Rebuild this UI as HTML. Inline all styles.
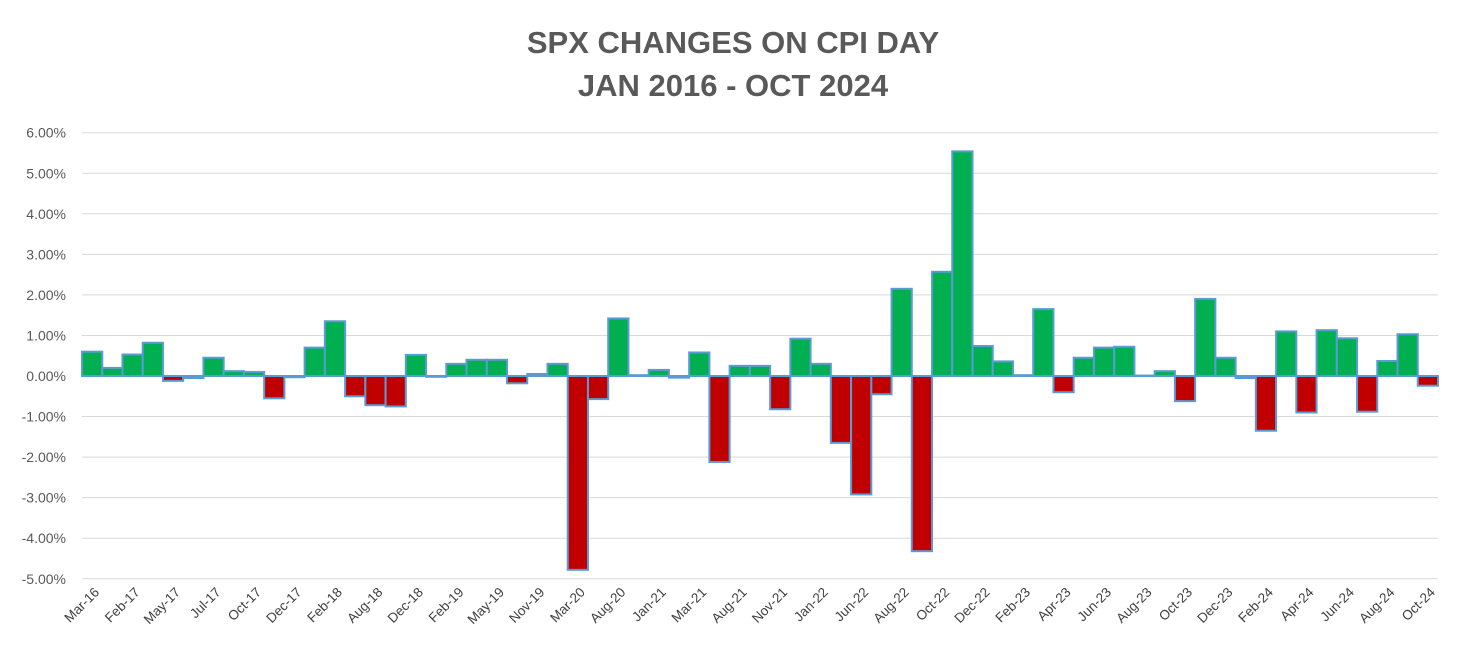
<!DOCTYPE html>
<html><head><meta charset="utf-8"><style>
body{margin:0;background:#fff;}
svg{display:block;font-family:"Liberation Sans",Arial,sans-serif;}
</style></head><body>
<svg id="chart" width="1466" height="662" viewBox="0 0 1466 662">
<text x="733" y="53" text-anchor="middle" font-size="31" font-weight="bold" fill="#595959">SPX CHANGES ON CPI DAY</text>
<text x="733" y="96" text-anchor="middle" font-size="31" font-weight="bold" fill="#595959">JAN 2016 - OCT 2024</text>
<g id="grid"></g>
<g id="yticks"></g>
<g id="bars"></g>
<g id="xticks"></g>
</svg>
<script>
const values = [0.60,0.20,0.53,0.82,-0.12,-0.05,0.45,0.12,0.10,-0.55,-0.03,0.70,1.35,-0.50,-0.72,-0.75,0.52,-0.02,0.30,0.40,0.40,-0.18,0.05,0.30,-4.78,-0.57,1.42,0.02,0.15,-0.04,0.58,-2.12,0.25,0.25,-0.82,0.92,0.30,-1.65,-2.92,-0.45,2.15,-4.32,2.57,5.54,0.74,0.36,0.02,1.65,-0.40,0.45,0.70,0.72,0.01,0.12,-0.62,1.90,0.45,-0.05,-1.35,1.10,-0.90,1.13,0.93,-0.88,0.37,1.03,-0.24];
const xLabels = ["Mar-16","Feb-17","May-17","Jul-17","Oct-17","Dec-17","Feb-18","Aug-18","Dec-18","Feb-19","May-19","Nov-19","Mar-20","Aug-20","Jan-21","Mar-21","Aug-21","Nov-21","Jan-22","Jun-22","Aug-22","Oct-22","Dec-22","Feb-23","Apr-23","Jun-23","Aug-23","Oct-23","Dec-23","Feb-24","Apr-24","Jun-24","Aug-24","Oct-24"];
const yTicks = [6,5,4,3,2,1,0,-1,-2,-3,-4,-5];
const NS="http://www.w3.org/2000/svg";
const X0=82,X1=1438,Y0=376,PX=40.55;
const n=values.length, bw=(X1-X0)/n;
const y=v=>Y0-v*PX;
const xc=i=>X0+bw*(i+0.5);
function mk(t,a){const e=document.createElementNS(NS,t);for(const k in a)e.setAttribute(k,a[k]);return e;}
const grid=document.getElementById('grid'),yt=document.getElementById('yticks');
yTicks.forEach(t=>{
  const l=mk('line',{x1:X0,x2:X1,y1:y(t),y2:y(t),stroke:t===0?'#bfbfbf':'#d9d9d9','stroke-width':t===0?2:1});
  
  
  grid.appendChild(l);
  const tx=mk('text',{x:66,y:y(t)+5,'text-anchor':'end','font-size':14,fill:'#595959'});
  tx.textContent=t.toFixed(2)+'%';
  
  
  yt.appendChild(tx);
});
const bars=document.getElementById('bars');
values.forEach((v,i)=>{
  const top=Math.min(y(v),Y0),h=Math.abs(y(v)-Y0);
  const r=mk('rect',{x:X0+bw*i,y:top,width:bw,height:Math.max(h,0.5),fill:v>=0?'#00b050':'#c00000',stroke:'#5b9bd5','stroke-width':2});
  
  
  bars.appendChild(r);
});
const xt=document.getElementById('xticks');
xLabels.forEach((lab,j)=>{
  const cx=xc(j*2);
  const tx=mk('text',{x:cx+8,y:593,'text-anchor':'end','font-size':13.5,fill:'#404040',transform:`rotate(-45 ${cx+8} 593)`});
  tx.textContent=lab;
  
  
  xt.appendChild(tx);
});
</script>
</body></html>
